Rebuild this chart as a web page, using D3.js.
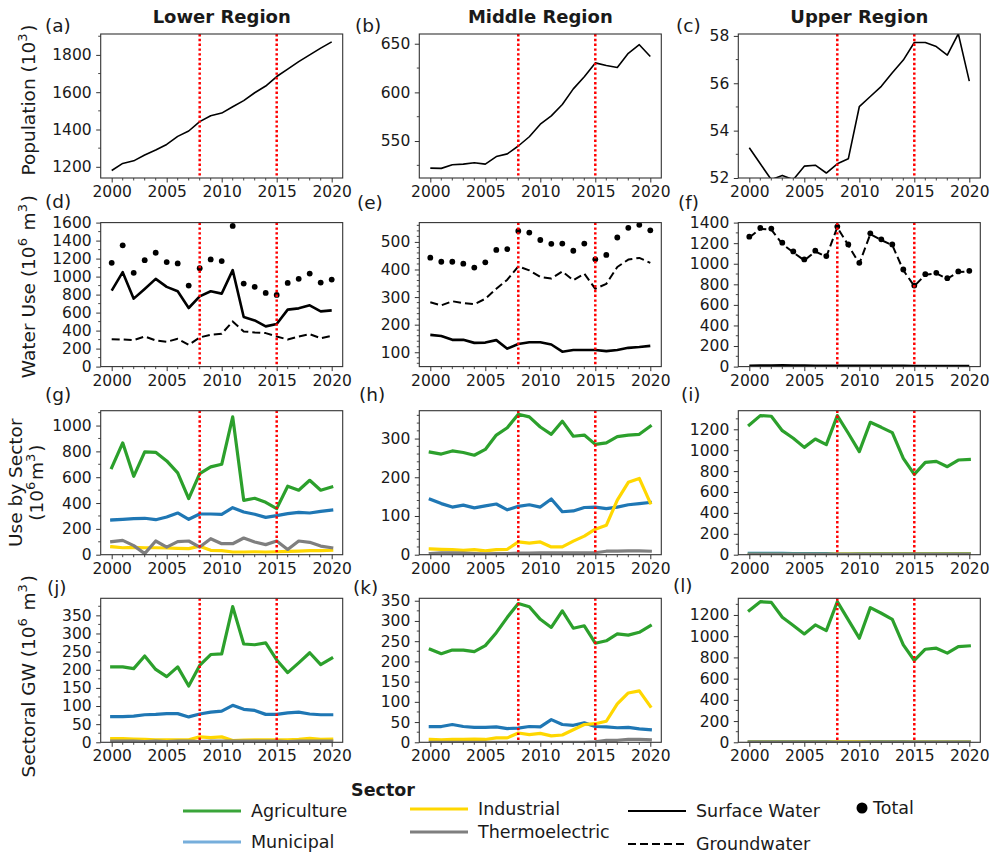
<!DOCTYPE html>
<html><head><meta charset="utf-8">
<script src="https://cdn.jsdelivr.net/npm/d3@7"></script>
<style>
body{margin:0;background:#fff}
svg{display:block}
text{font-family:"DejaVu Sans",sans-serif;fill:#1a1a1a}
</style>
</head><body>
<svg id="c" width="993" height="857"></svg>
<script>
// ---------------- DATA ----------------
const years = [2000,2001,2002,2003,2004,2005,2006,2007,2008,2009,2010,2011,2012,2013,2014,2015,2016,2017,2018,2019,2020];
const regions = ["Lower Region","Middle Region","Upper Region"];
const xTicks = [2000,2005,2010,2015,2020];
const eventYears = [2008,2015];

// Population (10^3)
const popLower  = [1180,1218,1232,1263,1290,1320,1363,1392,1442,1474,1488,1522,1555,1597,1633,1684,1724,1764,1800,1836,1870];
const popMiddle = [522.2,521.9,525.6,526.3,527.6,526.3,534,536.8,544.9,554.4,567.3,575.8,587.6,603.6,616.1,630.3,627.6,625.6,640.2,649,636.8];
const popUpper  = [53.28,52.6,51.93,52.11,51.93,52.5,52.54,52.21,52.6,52.81,55.01,55.44,55.87,56.44,56.98,57.72,57.72,57.55,57.19,58.09,56.09];

// Water use (10^6 m^3)
const totalLower = [1153,1347,1042,1183,1265,1161,1146,900,1094,1191,1172,1563,923,886,819,796,930,975,1034,934,967];
const swLower    = [845,1049,755,863,975,886,837,651,781,837,811,1072,551,513,447,473,633,647,681,614,625];
const gwLower    = [305,301,294,335,290,275,309,242,324,353,365,502,391,380,372,335,301,335,361,316,342];
const totalMiddle = [443,428,428,421,407,426,471,474,540,534,507,493,494,468,494,437,453,516,551,562,542];
const swMiddle    = [163,159,145,145,134,135,144,113,130,136,136,128,102,108,108,108,104,108,116,119,123];
const gwMiddle    = [281,270,285,278,274,294,330,363,411,397,373,367,393,361,385,330,348,409,436,442,424];
const totalUpper = [1263,1348,1342,1205,1120,1042,1127,1075,1361,1188,1009,1296,1237,1188,944,788,899,912,860,925,931];
const swUpper    = [8,9,10,12,10,9,8,8,7,8,8,7,7,7,7,6,6,6,6,6,6];
const gwUpper    = [1255,1339,1332,1193,1110,1033,1119,1067,1354,1180,1001,1289,1230,1181,937,782,893,906,854,919,925];

// Use by sector (10^6 m^3)
const agriLower   = [674,866,607,796,793,726,633,434,628,680,700,1067,421,437,406,357,530,499,576,499,525];
const muniLower   = [269,274,279,282,271,292,323,274,315,315,313,364,331,313,289,302,318,328,323,336,346];
const induLower   = [62,54,57,54,54,52,49,47,65,34,31,21,21,23,21,23,26,28,31,31,34];
const thermoLower = [101,111,70,8,106,59,101,106,59,124,85,85,129,98,78,106,41,106,96,67,54];
const agriMiddle   = [265,260,268,264,257,272,309,328,363,356,330,311,345,306,309,285,289,305,309,311,332];
const muniMiddle   = [143,132,123,128,121,126,131,116,125,129,123,144,111,113,122,123,119,123,129,132,135];
const induMiddle   = [15,14,13,11,13,10,13,14,33,30,33,20,20,35,48,66,76,141,187,197,134];
const thermoMiddle = [3,5,5,4,3,2,3,3,4,4,5,5,5,5,5,5,9,9,10,10,9];
const agriUpper   = [1242,1331,1325,1187,1114,1027,1107,1053,1331,1162,986,1267,1219,1168,922,768,883,893,842,906,912];
const muniUpper   = [12,13,13,12,11,10,10,11,9,9,10,11,11,10,10,10,10,10,10,10,10];
const induUpper   = [3,3,3,3,3,3,3,3,6,6,6,5,5,5,5,5,5,5,5,5,5];
const thermoUpper = [0,0,0,0,0,0,0,0,0,0,0,0,0,0,0,0,0,0,0,0,0];

// Sectoral groundwater (10^6 m^3)
const agriGwLower   = [208,208,203,238,201,181,208,155,212,242,244,374,271,269,274,227,192,219,247,214,232];
const muniGwLower   = [71,71,72,76,77,79,79,70,78,83,86,102,91,88,77,77,81,83,78,76,76];
const induGwLower   = [10,10,9,8,7,7,7,7,15,13,15,5,6,7,7,7,7,8,11,8,9];
const thermoGwLower = [3,3,3,2,3,2,3,3,2,3,3,3,3,3,3,3,2,3,3,3,3];
const agriGwMiddle   = [230,219,228,228,224,239,271,309,343,335,304,284,325,282,288,245,251,268,265,272,288];
const muniGwMiddle   = [39,39,44,39,37,37,38,34,35,39,38,56,44,42,48,39,38,36,37,33,31];
const induGwMiddle   = [7,6,7,7,8,7,11,11,23,19,22,16,18,31,44,46,52,95,122,127,89];
const thermoGwMiddle = [0,0,0,0,0,0,0,0,0,0,0,0,0,0,0,1,5,5,7,7,6];
const agriGwUpper   = [1241,1325,1319,1178,1100,1021,1106,1053,1325,1153,981,1269,1216,1159,918,771,877,887,840,902,909];
const muniGwUpper   = [6,6,6,6,6,6,6,6,5,5,5,6,6,6,6,5,5,5,5,5,5];
const induGwUpper   = [2,2,2,2,2,2,2,2,4,4,4,3,3,3,3,3,3,3,3,3,3];
const thermoGwUpper = [0,0,0,0,0,0,0,0,0,0,0,0,0,0,0,0,0,0,0,0,0];

const sectorNames  = ["Agriculture","Municipal","Industrial","Thermoelectric"];
const sectorColors = ["#2ca02c","#1f77b4","#ffd700","#7f7f7f"];
const sourceNames  = ["Surface Water","Groundwater","Total"];

// ---------------- LAYOUT ----------------
const svg = d3.select("#c");
const colLeft = [100.7, 419.3, 738.3];
const rowTop  = [34, 222.6, 410.7, 598.3];
const W = 242, H = 144;
const tickFs = 15.5, labFs = 18.5;

const x = d3.scaleLinear().domain([1999, 2021]).range([0, W]);

const panels = [
  {id:"a", r:0, c:0, dom:[1140,1912], ticks:[1200,1400,1600,1800], minor:100, lines:[{v:popLower, w:1.6}], lab:[45,32]},
  {id:"b", r:0, c:1, dom:[512,660], ticks:[550,600,650], minor:25, lines:[{v:popMiddle, w:1.6}], lab:[355,32]},
  {id:"c", r:0, c:2, dom:[52,58.08], ticks:[52,54,56,58], minor:1, lines:[{v:popUpper, w:1.6}], lab:[676,32]},
  {id:"d", r:1, c:0, dom:[0,1600], ticks:d3.range(0,1601,200), minor:100,
    lines:[{v:swLower,w:2.6},{v:gwLower,w:2,dash:"8,4"}], dots:totalLower, lab:[45,208]},
  {id:"e", r:1, c:1, dom:[48,570], ticks:[100,200,300,400,500], minor:20,
    lines:[{v:swMiddle,w:2.6},{v:gwMiddle,w:2,dash:"8,4"}], dots:totalMiddle, lab:[357,209]},
  {id:"f", r:1, c:2, dom:[0,1400], ticks:d3.range(0,1401,200), minor:100,
    lines:[{v:swUpper,w:2.6},{v:gwUpper,w:2,dash:"8,4"}], dots:totalUpper, lab:[678,209]},
  {id:"g", r:2, c:0, dom:[0,1115], ticks:[0,200,400,600,800,1000], minor:100,
    sectors:[agriLower,muniLower,induLower,thermoLower], lab:[45,401]},
  {id:"h", r:2, c:1, dom:[0,372], ticks:[0,100,200,300], minor:20,
    sectors:[agriMiddle,muniMiddle,induMiddle,thermoMiddle], lab:[359,401]},
  {id:"i", r:2, c:2, dom:[0,1378], ticks:d3.range(0,1201,200), minor:100,
    sectors:[agriUpper,muniUpper,induUpper,thermoUpper], lab:[681,401]},
  {id:"j", r:3, c:0, dom:[0,397], ticks:d3.range(0,351,50), minor:25,
    sectors:[agriGwLower,muniGwLower,induGwLower,thermoGwLower], lab:[47,594]},
  {id:"k", r:3, c:1, dom:[0,356], ticks:d3.range(0,351,50), minor:25,
    sectors:[agriGwMiddle,muniGwMiddle,induGwMiddle,thermoGwMiddle], lab:[353,594]},
  {id:"l", r:3, c:2, dom:[0,1357], ticks:d3.range(0,1201,200), minor:100,
    sectors:[agriGwUpper,muniGwUpper,induGwUpper,thermoGwUpper], lab:[673,592]},
];

const defs = svg.append("defs");

panels.forEach(p => {
  const ox = colLeft[p.c], oy = rowTop[p.r];
  const g = svg.append("g").attr("transform", `translate(${ox},${oy})`);
  const y = d3.scaleLinear().domain(p.dom).range([H, 0]);

  defs.append("clipPath").attr("id","clip"+p.id)
    .append("rect").attr("x",0).attr("y",0).attr("width",W).attr("height",H);

  const minorVals = d3.range(Math.ceil(p.dom[0]/p.minor)*p.minor, p.dom[1]+1e-9, p.minor)
    .filter(v => !p.ticks.some(t => Math.abs(t-v) < 1e-9));
  g.append("g").selectAll("line").data(minorVals).join("line")
    .attr("x1",0).attr("x2",-2.5).attr("y1",d=>y(d)).attr("y2",d=>y(d))
    .attr("stroke","#333").attr("stroke-width",0.9);
  const xMinor = years.filter(v => !xTicks.includes(v));
  g.append("g").selectAll("line").data(xMinor).join("line")
    .attr("y1",H).attr("y2",H+2.5).attr("x1",d=>x(d)).attr("x2",d=>x(d))
    .attr("stroke","#333").attr("stroke-width",0.9);

  const ax = g.append("g").attr("transform",`translate(0,${H})`)
    .call(d3.axisBottom(x).tickValues(xTicks).tickFormat(d3.format("d")).tickSize(4.5).tickPadding(3.5));
  const ay = g.append("g")
    .call(d3.axisLeft(y).tickValues(p.ticks).tickFormat(d3.format("d")).tickSize(4.5).tickPadding(4.5));
  [ax, ay].forEach(a => {
    a.select(".domain").remove();
    a.selectAll(".tick line").attr("stroke","#333").attr("stroke-width",1);
    a.selectAll(".tick text").attr("font-size", tickFs).attr("font-family","DejaVu Sans").attr("fill","#1a1a1a");
  });

  const plot = g.append("g").attr("clip-path", `url(#clip${p.id})`);
  const lineGen = vals => d3.line().x((d,i)=>x(years[i])).y(d=>y(d))(vals);

  if (p.sectors) {
    p.sectors.forEach((vals, k) => {
      plot.append("path").attr("d", lineGen(vals)).attr("fill","none")
        .attr("stroke", sectorColors[k]).attr("stroke-width",3.2)
        .attr("stroke-linejoin","round").attr("stroke-linecap","square");
    });
  }
  if (p.lines) {
    p.lines.forEach(l => {
      plot.append("path").attr("d", lineGen(l.v)).attr("fill","none")
        .attr("stroke","#000").attr("stroke-width",l.w)
        .attr("stroke-dasharray", l.dash || null)
        .attr("stroke-linejoin","round");
    });
  }
  if (p.dots) {
    plot.selectAll("circle").data(p.dots).join("circle")
      .attr("cx",(d,i)=>x(years[i])).attr("cy",d=>y(d)).attr("r",2.9).attr("fill","#000");
  }
  g.selectAll(".ev").data(eventYears).join("line").attr("class","ev")
    .attr("x1",d=>x(d)).attr("x2",d=>x(d)).attr("y1",0).attr("y2",H)
    .attr("stroke","#ff0000").attr("stroke-width",2.5).attr("stroke-dasharray","2.4,2.4");

  g.append("rect").attr("x",0).attr("y",0).attr("width",W).attr("height",H)
    .attr("fill","none").attr("stroke","#333").attr("stroke-width",1.1);

  svg.append("text").attr("x",p.lab[0]).attr("y",p.lab[1]).attr("font-size",labFs).text(`(${p.id})`);
});

// Titles
regions.forEach((t,i) => {
  svg.append("text").attr("x", colLeft[i] + W/2).attr("y", 23).attr("text-anchor","middle")
    .attr("font-size",18).attr("font-weight","bold").text(t);
});

// Y labels ( parts: [text, isSuperscript] )
function ylab(cx, cy, parts) {
  const t = svg.append("text").attr("transform",`translate(${cx},${cy}) rotate(-90)`)
    .attr("text-anchor","middle").attr("font-size",labFs);
  parts.forEach(([str, isSup]) => {
    if (isSup) {
      t.append("tspan").attr("font-size",labFs*0.7).attr("dy",-labFs*0.42).text(str);
      t.append("tspan").attr("font-size",labFs).attr("dy",labFs*0.42).text("\u200A");
    } else t.append("tspan").text(str);
  });
  return t;
}
ylab(35, rowTop[0]+H/2-6, [["Population (10"],["3",1],[")"]]);
ylab(35, rowTop[1]+H/2-8, [["Water Use (10"],["6",1],[" m"],["3",1],[")"]]);
ylab(22, rowTop[2]+H/2, [["Use by Sector"]]);
ylab(43, rowTop[2]+H/2, [["(10"],["6",1],["m"],["3",1],[")"]]);
ylab(35, rowTop[3]+H/2+6, [["Sectoral GW (10"],["6",1],[" m"],["3",1],[")"]]);

// Legend
const leg = svg.append("g");
leg.append("text").attr("x",383).attr("y",796).attr("text-anchor","middle")
  .attr("font-size",17.5).attr("font-weight","bold").text("Sector");
const legItems = [
  {name:sectorNames[0], x:183, y:811, color:"#3aa53a", w:3.2},
  {name:sectorNames[1], x:183, y:842, color:"#76aedb", w:3.2},
  {name:sectorNames[2], x:410, y:809, color:"#ffd700", w:3.2},
  {name:sectorNames[3], x:410, y:832, color:"#7f7f7f", w:3.2},
  {name:sourceNames[0], x:628, y:811, color:"#000", w:2},
  {name:sourceNames[1], x:628, y:844, color:"#000", w:2, dash:"8,4"},
];
legItems.forEach(it => {
  leg.append("line").attr("x1",it.x).attr("x2",it.x+58).attr("y1",it.y).attr("y2",it.y)
    .attr("stroke",it.color).attr("stroke-width",it.w).attr("stroke-dasharray",it.dash||null);
  leg.append("text").attr("x",it.x+68).attr("y",it.y+6).attr("font-size",17.5).text(it.name);
});
leg.append("circle").attr("cx",862).attr("cy",808).attr("r",5.5).attr("fill","#000");
leg.append("text").attr("x",873).attr("y",814).attr("font-size",17.5).text(sourceNames[2]);
</script>
</body></html>
